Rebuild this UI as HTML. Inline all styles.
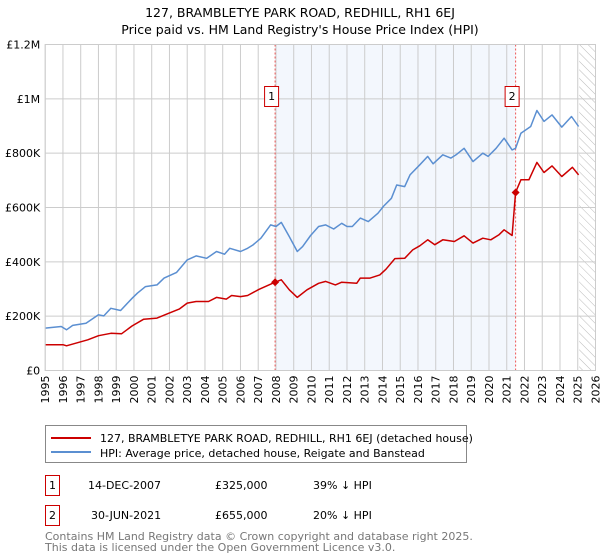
<!DOCTYPE html>
<html><head><meta charset="utf-8">
<style>
body{margin:0;background:#fff;font-family:"Liberation Sans","DejaVu Sans",sans-serif;}
#wrap{position:relative;width:600px;height:560px;overflow:hidden;}
svg text{font-family:"DejaVu Sans","Liberation Sans",sans-serif;}
</style></head>
<body>
<div id="wrap">
<svg id="chart" width="600" height="560" viewBox="0 0 600 560">
<defs>
<pattern id="hatch" width="6" height="6" patternUnits="userSpaceOnUse" patternTransform="rotate(-45)">
<line x1="0" y1="0" x2="0" y2="6" stroke="#bbb" stroke-width="1"/>
</pattern>
</defs>
<text x="300" y="17" text-anchor="middle" font-size="12.5" fill="#000">127, BRAMBLETYE PARK ROAD, REDHILL, RH1 6EJ</text>
<text x="300" y="34" text-anchor="middle" font-size="12.5" fill="#000">Price paid vs. HM Land Registry's House Price Index (HPI)</text>
<g id="plot"></g>
<g>
<rect x="45.5" y="425.5" width="421" height="37" fill="#fff" stroke="#888"/>
<line x1="51" y1="438" x2="91" y2="438" stroke="#cc0000" stroke-width="2"/>
<text x="100" y="442" font-size="11">127, BRAMBLETYE PARK ROAD, REDHILL, RH1 6EJ (detached house)</text>
<line x1="51" y1="452" x2="91" y2="452" stroke="#5b8fd1" stroke-width="2"/>
<text x="100" y="457" font-size="11">HPI: Average price, detached house, Reigate and Banstead</text>
</g>
<g>
<rect x="45.5" y="475.5" width="14" height="20" fill="#fff" stroke="#cc0000"/>
<text x="52.5" y="489" text-anchor="middle" font-size="11">1</text>
<text x="88" y="489" font-size="11">14-DEC-2007</text>
<text x="215" y="489" font-size="11">£325,000</text>
<text x="313" y="489" font-size="11">39% ↓ HPI</text>
<rect x="45.5" y="505.5" width="14" height="20" fill="#fff" stroke="#cc0000"/>
<text x="52.5" y="519" text-anchor="middle" font-size="11">2</text>
<text x="91" y="519" font-size="11">30-JUN-2021</text>
<text x="215" y="519" font-size="11">£655,000</text>
<text x="313" y="519" font-size="11">20% ↓ HPI</text>
</g>
<text x="45" y="540" font-size="11" fill="#777">Contains HM Land Registry data © Crown copyright and database right 2025.</text>
<text x="45" y="551" font-size="11" fill="#777">This data is licensed under the Open Government Licence v3.0.</text>
</svg>
</div>
<script>
const yTickValues=[0,200000,400000,600000,800000,1000000,1200000];
const yTickLabels=["£0","£200K","£400K","£600K","£800K","£1M","£1.2M"];
const xTickYears=[1995,1996,1997,1998,1999,2000,2001,2002,2003,2004,2005,2006,2007,2008,2009,2010,2011,2012,2013,2014,2015,2016,2017,2018,2019,2020,2021,2022,2023,2024,2025,2026];
const hpiDates=[1995,1995.9,1996.2,1996.55,1997.3,1998,1998.3,1998.7,1999.25,1999.9,2000.2,2000.65,2001.3,2001.7,2002.4,2003,2003.5,2004.1,2004.65,2005.1,2005.4,2006,2006.4,2006.7,2007.15,2007.7,2008,2008.3,2008.75,2009.2,2009.5,2009.95,2010.4,2010.8,2011.25,2011.7,2012,2012.3,2012.75,2013.2,2013.75,2014.05,2014.5,2014.8,2015.25,2015.55,2016.1,2016.55,2016.85,2017.4,2017.85,2018.15,2018.6,2019.1,2019.65,2019.95,2020.4,2020.85,2021.3,2021.5,2021.8,2022.35,2022.7,2023.1,2023.55,2024.1,2024.65,2025.05];
const hpiValues=[156,162,150,166,174,205,201,229,221,266,285,309,315,340,361,407,422,413,438,428,450,438,450,462,487,536,530,545,493,438,456,497,530,536,521,542,530,530,561,548,579,604,634,683,677,720,757,788,761,794,782,794,818,769,800,788,818,855,812,818,873,898,957,917,941,896,935,898];
const propDates=[1995,1996,1996.2,1997.4,1998,1998.7,1999.3,1999.9,2000.55,2001.3,2001.9,2002.55,2003,2003.5,2004.2,2004.65,2005.2,2005.5,2006,2006.4,2007.05,2007.95,2008.3,2008.75,2009.2,2009.75,2010.4,2010.8,2011.35,2011.7,2012.55,2012.75,2013.3,2013.85,2014.2,2014.7,2015.25,2015.7,2016.1,2016.55,2016.95,2017.4,2018.05,2018.6,2019.1,2019.65,2020.1,2020.55,2020.85,2021.3,2021.5,2021.8,2022.25,2022.7,2023.1,2023.55,2024.1,2024.7,2025.05];
const propValues=[95,95,91,113,128,137,135,164,189,193,209,226,248,254,254,269,263,276,272,276,299,325,334,297,269,297,321,328,315,325,321,340,340,352,373,412,413,444,459,481,463,481,475,496,469,487,481,499,518,497,656,702,702,766,729,753,714,748,720];
const saleDates=[2007.95,2021.5];
const saleValues=[325,655];
const saleLabels=["1","2"];

const NS="http://www.w3.org/2000/svg";
const L=45.2,R=595.5,T=44.5,B=370.5;
const X0=1995,X1=2026,YMAX=1200000;
function xs(y){return L+(y-X0)/(X1-X0)*(R-L);}
function ys(v){return B-v/YMAX*(B-T);}
const plot=document.getElementById('plot');
function mk(tag,attrs,parent){const e=document.createElementNS(NS,tag);for(const k in attrs)e.setAttribute(k,attrs[k]);(parent||plot).appendChild(e);return e;}

let e;
e=mk('rect',{x:xs(saleDates[0]),y:T,width:xs(saleDates[1])-xs(saleDates[0]),height:B-T,fill:'#eef3fc',opacity:0.7});


e=mk('rect',{x:xs(2025.08),y:T,width:R-xs(2025.08),height:B-T,fill:'url(#hatch)'});



xTickYears.forEach(yr=>{
  const g=mk('line',{x1:xs(yr),x2:xs(yr),y1:T,y2:B,stroke:'#ccc','stroke-width':1});
  
  
  const t=mk('text',{x:0,y:0,'font-size':11,'text-anchor':'end',transform:`translate(${xs(yr)+4},${B+5}) rotate(-90)`});
  t.textContent=yr;
  
  
});
yTickValues.forEach((v,i)=>{
  const g=mk('line',{x1:L,x2:R,y1:ys(v),y2:ys(v),stroke:'#ccc','stroke-width':1});
  
  
  const t=mk('text',{x:L-5,y:ys(v)+4,'font-size':11,'text-anchor':'end'});
  t.textContent=yTickLabels[i];
  
  
});

saleDates.forEach((d,i)=>{
  const l=mk('line',{x1:xs(d),x2:xs(d),y1:T,y2:B,stroke:'#e55','stroke-width':1,'stroke-dasharray':'2,2'});
  
  
});

function path(dates,vals,color,name){
  const d=dates.map((t,i)=>(i?'L':'M')+xs(t).toFixed(1)+','+ys(vals[i]*1000).toFixed(1)).join('');
  const p=mk('path',{d:d,fill:'none',stroke:color,'stroke-width':1.5,'stroke-linejoin':'round'});
  
  
}
path(hpiDates,hpiValues,'#5b8fd1','hpi-line');
path(propDates,propValues,'#cc0000','property-line');

saleDates.forEach((d,i)=>{
  const cx=xs(d),cy=ys(saleValues[i]*1000);
  const m=mk('path',{d:`M${cx-4},${cy}L${cx},${cy-4}L${cx+4},${cy}L${cx},${cy+4}Z`,fill:'#cc0000'});
  
  
  const bx=mk('rect',{x:xs(d)-10.5,y:86.5,width:14,height:20,fill:'#fff',stroke:'#cc0000'});
  
  
  const t=mk('text',{x:xs(d)-3.5,y:100,'font-size':11,'text-anchor':'middle'});
  t.textContent=saleLabels[i];
  
  
});
const ax=mk('rect',{x:L,y:T,width:R-L,height:B-T,fill:'none',stroke:'#ccc'});


</script>
</body></html>
